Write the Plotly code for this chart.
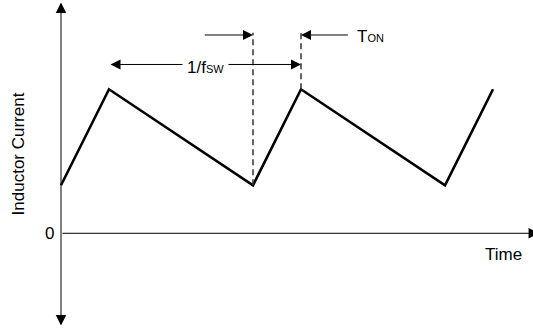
import plotly.graph_objects as go

# ---- data (time in switching periods, current in arbitrary units) ----
time_pts = [0.0, 0.25, 1.0, 1.25, 2.0, 2.25]
current_pts = [1.0, 3.0, 1.0, 3.0, 1.0, 3.0]
guide_times = [1.0, 1.25]
guide_bottoms = [1.0, 3.0]
guide_top = 4.18
period_start, period_end = 0.25, 1.25
ton_start, ton_end = 1.0, 1.25
zero_label = "0"
x_title = "Time"
y_title = "Inductor Current"

X_RANGE = [-0.3177, 2.4583]
Y_RANGE = [-1.994, 4.860]

FONT = "Liberation Sans, Arial, sans-serif"

fig = go.Figure()
fig.add_trace(go.Scatter(x=time_pts, y=current_pts, mode="lines",
                         line=dict(color="black", width=2.6),
                         hoverinfo="skip"))
for t, b in zip(guide_times, guide_bottoms):
    fig.add_trace(go.Scatter(x=[t, t], y=[b, guide_top], mode="lines",
                             line=dict(color="#333333", width=1.5, dash="6px,4px"),
                             hoverinfo="skip"))

ann = []
# y axis double arrow
ann.append(dict(x=0, y=4.808, ax=0, ay=-1.952, xref="x", yref="y", axref="x", ayref="y",
                text="", showarrow=True, arrowside="end+start", arrowhead=2, startarrowhead=2,
                arrowsize=2.1, startarrowsize=2.1, arrowwidth=1, arrowcolor="black"))
# x axis arrow
ann.append(dict(x=2.49, y=0, ax=0, ay=0, xref="x", yref="y", axref="x", ayref="y",
                text="", showarrow=True, arrowhead=2, arrowsize=2.1, arrowwidth=1,
                arrowcolor="black"))
# 1/fsw double arrow
y_per = 3.517
ann.append(dict(x=period_end, y=y_per, ax=period_start, ay=y_per, xref="x", yref="y",
                axref="x", ayref="y", text="", showarrow=True, arrowside="end+start",
                arrowhead=2, startarrowhead=2, arrowsize=2, startarrowsize=2,
                arrowwidth=1, arrowcolor="black"))
ann.append(dict(x=(period_start + period_end) / 2, y=3.45, xref="x", yref="y",
                text="1/f<span style='font-size:11px'>SW</span>", showarrow=False,
                bgcolor="white", borderpad=4, font=dict(family=FONT, size=17, color="black")))
# Ton arrows
y_ton = 4.131
ann.append(dict(x=ton_start, y=y_ton, ax=0.741, ay=y_ton, xref="x", yref="y",
                axref="x", ayref="y", text="", showarrow=True, arrowhead=2,
                arrowsize=2, arrowwidth=1, arrowcolor="black"))
ann.append(dict(x=ton_end, y=y_ton, ax=1.502, ay=y_ton, xref="x", yref="y",
                axref="x", ayref="y", text="", showarrow=True, arrowhead=2,
                arrowsize=2, arrowwidth=1, arrowcolor="black"))
ann.append(dict(x=1.531, y=4.09, xref="x", yref="y", xanchor="left",
                text="T<span style='font-size:11px'>ON</span>", showarrow=False,
                font=dict(family=FONT, size=17, color="black")))
# labels
ann.append(dict(x=-0.0625, y=0, xref="x", yref="y", text=zero_label, showarrow=False,
                font=dict(family=FONT, size=17, color="black")))
ann.append(dict(x=2.307, y=-0.452, xref="x", yref="y", text=x_title, showarrow=False,
                font=dict(family=FONT, size=17, color="black")))
ann.append(dict(x=-0.219, y=1.6625, xref="x", yref="y", text=y_title, showarrow=False,
                textangle=-90, font=dict(family=FONT, size=17, color="black")))

fig.update_layout(
    width=533, height=329,
    margin=dict(l=0, r=0, t=0, b=0),
    paper_bgcolor="white", plot_bgcolor="white",
    showlegend=False,
    xaxis=dict(range=X_RANGE, visible=False, fixedrange=True),
    yaxis=dict(range=Y_RANGE, visible=False, fixedrange=True),
    annotations=ann,
)
fig.write_html("out.html", config={"displayModeBar": False},
               post_script="document.body.style.margin='0';document.body.style.overflow='hidden';")
